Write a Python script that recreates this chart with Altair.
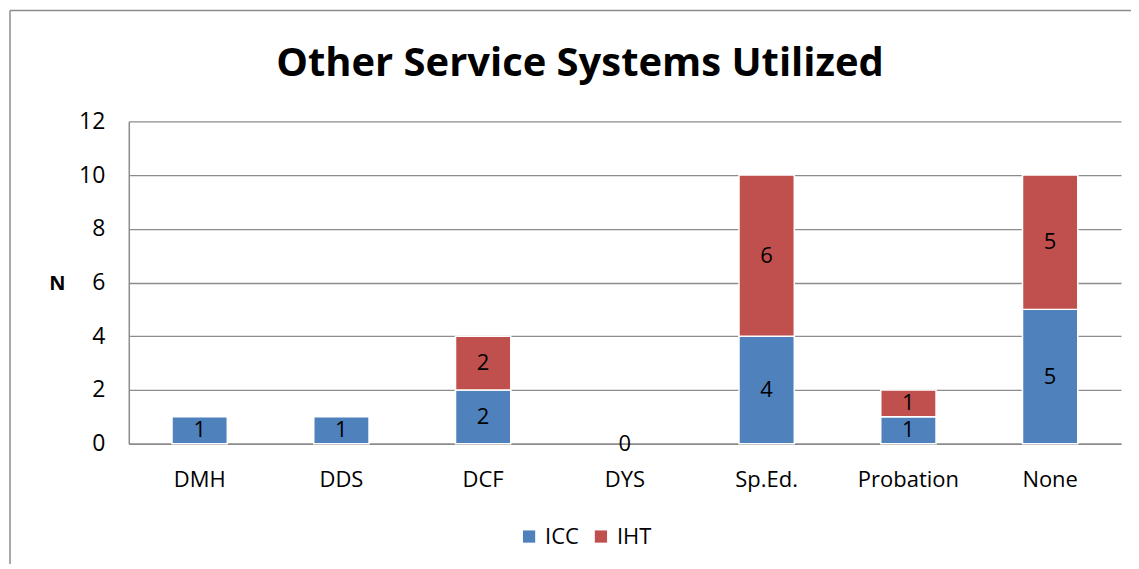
import altair as alt
import pandas as pd

categories = ["DMH", "DDS", "DCF", "DYS", "Sp.Ed.", "Probation", "None"]
icc = [1, 1, 2, 0, 4, 1, 5]
iht = [None, None, 2, None, 6, 1, 5]
series = ["ICC", "IHT"]
colors = ["#4F81BD", "#C0504D"]
y_ticks = [0, 2, 4, 6, 8, 10, 12]

rows = []
for c, a, b in zip(categories, icc, iht):
    rows.append({"cat": c, "series": "ICC", "order": 0, "value": a})
    rows.append({"cat": c, "series": "IHT", "order": 1, "value": b})
df = pd.DataFrame(rows)

FONT = "Open Sans"
W, H = 994, 323

base = alt.Chart(df).transform_filter(
    "datum.value != null"
).transform_stack(
    stack="value", groupby=["cat"], sort=[alt.SortField("order")], as_=["y0", "y1"]
).transform_calculate(
    mid="(datum.y0 + datum.y1) / 2"
)

xenc = alt.X(
    "cat:N", sort=categories, title=None,
    scale=alt.Scale(paddingInner=0.61, paddingOuter=0.305),
    axis=alt.Axis(labelAngle=0, ticks=False, labelPadding=26, labelFontSize=22,
                  labelFont=FONT, labelColor="black", domainColor="#8c8c8c",
                  domainWidth=1.5),
)

bars = base.transform_filter("datum.value > 0").mark_bar(stroke="white", strokeWidth=1.5).encode(
    x=xenc,
    y=alt.Y("y0:Q", title="N",
            scale=alt.Scale(domain=[0, 12], nice=False),
            axis=alt.Axis(values=y_ticks, ticks=False, labelPadding=24,
                          labelFontSize=23, labelFont=FONT, labelColor="black",
                          gridColor="#8c8c8c", gridWidth=1.3,
                          domainColor="#8c8c8c", domainWidth=1.5,
                          titleAngle=0, titleFont=FONT, titleFontSize=20,
                          titleFontWeight="bold", titleX=-72, titleY=163,
                          titleAlign="center", titleBaseline="middle")),
    y2="y1:Q",
    color=alt.Color("series:N", scale=alt.Scale(domain=series, range=colors),
                    legend=alt.Legend(title=None, orient="none", direction="horizontal",
                                      legendX=390, legendY=405, symbolType="square",
                                      symbolSize=150, symbolStrokeWidth=0,
                                      labelFont=FONT, labelFontSize=22,
                                      labelColor="black", columnPadding=11,
                                      labelOffset=5)),
)

labels = base.mark_text(fontSize=22, font=FONT, color="black", baseline="middle").encode(
    x=alt.X("cat:N", sort=categories),
    y=alt.Y("mid:Q"),
    text=alt.Text("value:Q"),
)

frame_left = alt.Chart(pd.DataFrame({"k": [0]})).mark_rule(color="#8c8c8c", strokeWidth=1.5).encode(
    x=alt.value(-119), y=alt.value(-111), y2=alt.value(H + 130)
)
frame_top = alt.Chart(pd.DataFrame({"k": [0]})).mark_rule(color="#8c8c8c", strokeWidth=1.5).encode(
    x=alt.value(-119), x2=alt.value(W + 20), y=alt.value(-111)
)

chart = alt.layer(frame_left, frame_top, bars, labels).properties(
    width=W, height=H,
    autosize=alt.AutoSizeParams(type="none"),
    padding={"left": 121, "top": 113, "right": 10, "bottom": 120},
    title=alt.TitleParams("Other Service Systems Utilized", font=FONT, fontSize=40,
                          fontWeight="bold", color="black", anchor="middle",
                          frame="group", dx=-45, offset=-106, baseline="alphabetic"),
).configure_view(stroke=None)

chart.save("out.html", embed_options={"renderer": "svg", "actions": False})
